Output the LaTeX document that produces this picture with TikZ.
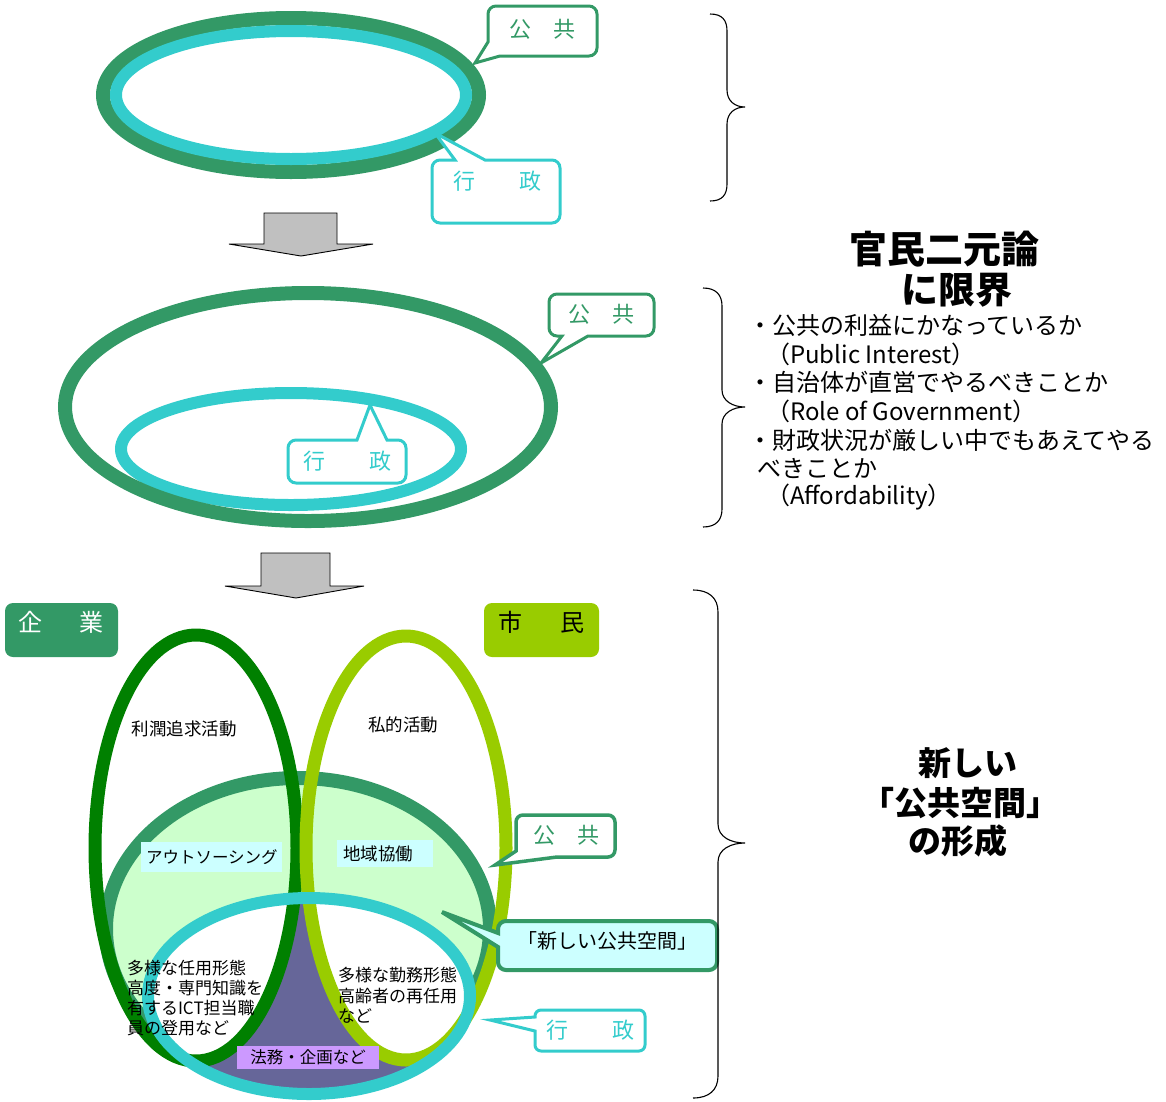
\documentclass[tikz,border=0pt]{standalone}
\usepackage{fontspec}
\setmainfont{Noto Sans CJK JP}
\definecolor{pg}{HTML}{339966}
\definecolor{cy}{HTML}{33CCCC}
\definecolor{dg}{HTML}{008000}
\definecolor{lm}{HTML}{99CC00}
\definecolor{lgf}{HTML}{CCFFCC}
\definecolor{lcy}{HTML}{CCFFFF}
\definecolor{pu}{HTML}{666699}
\definecolor{lpu}{HTML}{CC99FF}
\definecolor{ag}{HTML}{C0C0C0}
\newcommand{\fsz}[1]{\fontsize{#1}{#1}\selectfont}
\begin{document}
\begin{tikzpicture}[x=1pt,y=-1pt,
  every node/.style={inner sep=0pt, outer sep=0pt},
  pubring/.style={draw=pg, line width=14pt},
  admring/.style={draw=cy, line width=12pt},
  callg/.style={draw=pg, line width=3pt, fill=white},
  callc/.style={draw=cy, line width=3pt, fill=white},
  blockarrow/.style={draw=black, line width=0.9pt, fill=ag},
  bracestroke/.style={draw=black, line width=1.1pt},
  calltext/.style={font=\fsz{22}},
  venntext/.style={font=\fsz{17.5}, text=black},
  listtext/.style={font=\fsz{24}, text=black, anchor=west},
  bigtitle/.style={font=\bfseries\fsz{37}, text=black},
]
\useasboundingbox (0,0) rectangle (1166,1101);

% ---------- section 1 ----------
\draw[pubring] (291,95) ellipse [x radius=188pt, y radius=77pt];
\draw[admring] (291,95) ellipse [x radius=175pt, y radius=64pt];
\draw[callg] (475,63) -- (488,42) [rounded corners=8pt] -- (488,6) -- (597,6) -- (597,56) [sharp corners] -- (500,56) -- cycle;
\node[calltext, text=pg] (pubA) at (542,29) {公　共};
\draw[callc] (435,133) -- (485,160) [rounded corners=8pt] -- (560,160) -- (560,223) -- (432,223) -- (432,160) [sharp corners] -- (455,160) -- cycle;
\node[calltext, text=cy] (admA) at (497,181) {行　　政};

% brace 1
\draw[bracestroke] (710,14) .. controls (722,14) and (727,20) .. (727,31) -- (727,90)
  .. controls (727,101) and (735,107) .. (745,107) .. controls (735,107) and (727,113) .. (727,124)
  -- (727,184) .. controls (727,195) and (722,201) .. (710,201);

% arrow 1
\draw[blockarrow] (264,213) -- (337,213) -- (337,244) -- (373,244) -- (301,256) -- (229,244) -- (264,244) -- cycle;

% ---------- section 2 ----------
\draw[admring] (291,449) ellipse [x radius=170pt, y radius=56pt];
\draw[pubring] (308,407) ellipse [x radius=243pt, y radius=114pt];
\draw[callg] (541,363) -- (562,336) [rounded corners=8pt] -- (549,336) -- (549,294) -- (654,294) -- (654,336) [sharp corners] -- (588,336) -- cycle;
\node[calltext, text=pg] (pubB) at (601,314) {公　共};
\draw[callc] (370,405) -- (387,440) [rounded corners=8pt] -- (406,440) -- (406,483) -- (288,483) -- (288,440) [sharp corners] -- (357,440) -- cycle;
\node[calltext, text=cy] (admB) at (347,461) {行　　政};

% brace 2
\draw[bracestroke] (703,288) .. controls (716,288) and (722,295) .. (722,306) -- (722,390)
  .. controls (722,401) and (733,407) .. (745,407) .. controls (733,407) and (722,413) .. (722,424)
  -- (722,509) .. controls (722,520) and (716,527) .. (703,527);

% right text
\node[bigtitle, font=\bfseries\fsz{38}] (t0a) at (944,249) {官民二元論};
\node[bigtitle] (t0b) at (957,290) {に限界};
\node[listtext] (t1) at (748,325) {・公共の利益にかなっているか};
\node[listtext] (t2) at (766,354) {（Public Interest）};
\node[listtext] (t3) at (748,382) {・自治体が直営でやるべきことか};
\node[listtext] (t4) at (766,411) {（Role of Government）};
\node[listtext] (t5) at (748,440) {・財政状況が厳しい中でもあえてやる};
\node[listtext] (t6) at (757,468) {べきことか};
\node[listtext] (t7) at (766,497) {（Affordability）};

% arrow 2
\draw[blockarrow] (261,553) -- (330,553) -- (330,586) -- (364,586) -- (296,598) -- (225,586) -- (261,586) -- cycle;

% ---------- section 3 ----------
\node[fill=pg, rounded corners=8pt, minimum width=113pt, minimum height=54pt] (kigyobox) at (61.5,630) {};
\node[font=\fsz{24}, text=white] (kigyo) at (61,622) {企\hspace{38pt}業};
\node[fill=lm, rounded corners=8pt, minimum width=115pt, minimum height=54pt] (shiminbox) at (541.5,630) {};
\node[font=\fsz{24}, text=black] (shimin) at (541,622) {市\hspace{38pt}民};

\filldraw[fill=lgf, draw=pg, line width=14pt] (298,929) ellipse [x radius=192pt, y radius=151pt];
\fill[pu] (309,996) ellipse [x radius=161pt, y radius=98pt];
\begin{scope}
  \clip (309,996) ellipse [x radius=161pt, y radius=98pt];
  \fill[white] (196,848) ellipse [x radius=101pt, y radius=213pt];
  \fill[white] (406,848) ellipse [x radius=100pt, y radius=212pt];
\end{scope}
\draw[dg, line width=13pt] (196,848) ellipse [x radius=101pt, y radius=213pt];
\draw[lm, line width=13pt] (406,848) ellipse [x radius=100pt, y radius=212pt];
\draw[admring] (309,996) ellipse [x radius=161pt, y radius=98pt];

\node[venntext] (profit) at (184,729) {利潤追求活動};
\node[venntext] (private) at (403,725) {私的活動};
\node[venntext, font=\fsz{16.5}, fill=lcy, anchor=west, minimum width=141pt, minimum height=30pt, text width=131pt, align=left, inner xsep=5pt] (outs) at (141,857) {アウトソーシング};
\node[venntext, fill=lcy, anchor=west, minimum width=90pt, minimum height=27pt, text width=84pt, align=left, inner xsep=6pt] (kyodo) at (337,853.5) {地域協働};
\node[venntext, font=\fontsize{17}{20}\selectfont, anchor=west, align=left] (leftblk) at (127,998) {多様な任用形態\\高度・専門知識を\\有するICT担当職\\員の登用など};
\node[venntext, font=\fontsize{17}{20.5}\selectfont, anchor=west, align=left] (rightblk) at (338,995.5) {多様な勤務形態\\高齢者の再任用\\など};
\node[venntext, font=\fsz{16.5}, fill=lpu, minimum width=142pt, minimum height=23pt] (homu) at (308,1057.5) {法務・企画など};

% callouts section 3
\draw[callg, line width=3.5pt] (495,865) -- (516,851) [rounded corners=7pt] -- (516,815) -- (615,815) -- (615,857) [sharp corners] -- (557,857) -- cycle;
\node[calltext, text=pg] (pubC) at (566,835) {公　共};
\draw[draw=pg, line width=4pt, fill=lcy] (442,912) -- (498,933) [rounded corners=8pt] -- (498,921) -- (717,921) -- (717,970) -- (498,970) [sharp corners] -- (498,947) -- cycle;
\node[font=\fsz{20}, text=black] (newspace) at (607,941) {「新しい公共空間」};
\draw[callc] (490,1020) -- (535,1017) [rounded corners=6pt] -- (535,1010) -- (645,1010) -- (645,1051) -- (535,1051) [sharp corners] -- (535,1031) -- cycle;
\node[calltext, text=cy] (admC) at (590,1030) {行　　政};

% brace 3
\draw[bracestroke] (693,590) .. controls (709,590) and (718,598) .. (718,612) -- (718,824)
  .. controls (718,837) and (731,843) .. (745,843) .. controls (731,843) and (718,849) .. (718,862)
  -- (718,1076) .. controls (718,1090) and (709,1098) .. (693,1098);

\node[bigtitle, font=\bfseries\fsz{33}] (n1) at (968,763) {新しい};
\node[bigtitle, font=\bfseries\fsz{33}] (n2) at (960,803) {「公共空間」};
\node[bigtitle, font=\bfseries\fsz{33}] (n3) at (958,841) {の形成};
\end{tikzpicture}
\end{document}
